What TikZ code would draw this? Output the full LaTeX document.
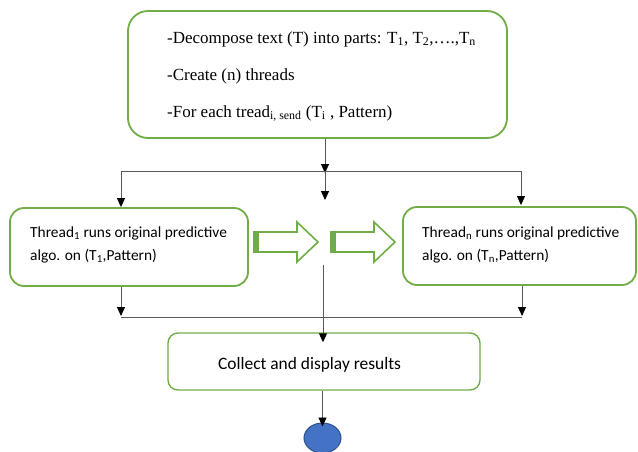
\documentclass[tikz,border=0pt]{standalone}
\usepackage{fontspec}
\setmainfont{Liberation Serif}
\newfontfamily\calib{Carlito}
\usetikzlibrary{arrows.meta,shapes.geometric}
\definecolor{grn}{HTML}{70AD47}
\definecolor{lnc}{HTML}{595959}
\definecolor{blu}{HTML}{4472C4}
\definecolor{bluedge}{HTML}{2F528F}
\tikzset{
  gbox/.style={draw=grn, line width=1.8pt, fill=white, rounded corners=14pt, inner sep=0pt},
  conn/.style={draw=lnc, line width=0.9pt},
  arr/.style={conn, -{Triangle[width=8pt,length=9pt,fill=black,color=black]}},
  serifline/.style={anchor=base west, inner sep=0pt, font=\fontsize{17}{19}\selectfont},
  calibline/.style={anchor=base west, inner sep=0pt, font=\calib\fontsize{15.4}{18}\selectfont},
  blockarrow/.style={draw=grn, line width=1.6pt, fill=white, line join=miter},
}
\begin{document}
\begin{tikzpicture}[x=1pt,y=-1pt]
\useasboundingbox (0,0) rectangle (638,451);

% boxes
\node[gbox, minimum width=379pt, minimum height=127pt, rounded corners=20pt] (top) at (317.5,74.5) {};
\node[gbox, minimum width=238pt, minimum height=78pt] (left) at (129,247) {};
\node[gbox, minimum width=233pt, minimum height=78pt] (right) at (519.5,246) {};
\node[gbox, minimum width=312pt, minimum height=57pt, line width=1.4pt, rounded corners=10pt] (collect) at (324,361.5) {};
\node[ellipse, draw=bluedge, line width=1pt, fill=blu, minimum width=37pt, minimum height=30pt, inner sep=0pt] (end) at (322.5,438) {};

% texts
\node[serifline] (t1) at (167,43) {-Decompose text (T) into parts: T\textsubscript{1}, T\textsubscript{2},\dots.,T\textsubscript{n}};
\node[serifline] (t2) at (167,80) {-Create (n) threads};
\node[serifline] (t3) at (167,117) {-For each tread\textsubscript{i, send} (T\textsubscript{i} , Pattern)};
\node[calibline] (l1) at (30,237) {Thread\textsubscript{1} runs original predictive};
\node[calibline] (l2) at (30,260) {algo. on (T\textsubscript{1},Pattern)};
\node[calibline] (r1) at (422,237) {Thread\textsubscript{n} runs original predictive};
\node[calibline] (r2) at (422,260) {algo. on (T\textsubscript{n},Pattern)};
\node[calibline, font=\calib\fontsize{17.4}{20}\selectfont] (c1) at (218,369) {Collect and display results};

% junction points
\coordinate (ja) at (121,171);
\coordinate (jb) at (325,171);
\coordinate (jc) at (521,171);
\coordinate (ka) at (121,317);
\coordinate (kb) at (323,317);
\coordinate (kc) at (522,317);
\coordinate (mid) at (325,200);
\coordinate (midb) at (323,265);

% fan-out
\draw[arr] (top.south -| jb) -- ([yshift=-2pt]jb);
\draw[conn] (ja) -- (jc);
\draw[arr] (ja) -- (left.north -| ja);
\draw[arr] (jb) -- (mid);
\draw[arr] (jc) -- ([yshift=1pt]right.north -| jc);

% fan-in
\draw[arr] (left.south -| ka) -- ([yshift=1pt]ka);
\draw[arr] (right.south -| kc) -- ([yshift=1pt]kc);
\draw[conn] (ka) -- (kc);
\draw[arr] (midb) -- ([yshift=-10pt]collect.north -| kb);
\draw[arr] (collect.south -| end) -- ([yshift=-4pt]end.north);

% striped block arrows between the thread boxes
\foreach \x/\n in {254/ba1, 331/ba2}{
  \draw[blockarrow] (\x,232) -- (\x+43,232) -- (\x+43,222) -- (\x+64,242) -- (\x+43,262) -- (\x+43,252) -- (\x,252) -- cycle;
  \fill[grn] (\x-0.8,231.2) rectangle (\x+5,252.8);
  \coordinate (\n) at (\x,242);
}
\end{tikzpicture}
\end{document}
